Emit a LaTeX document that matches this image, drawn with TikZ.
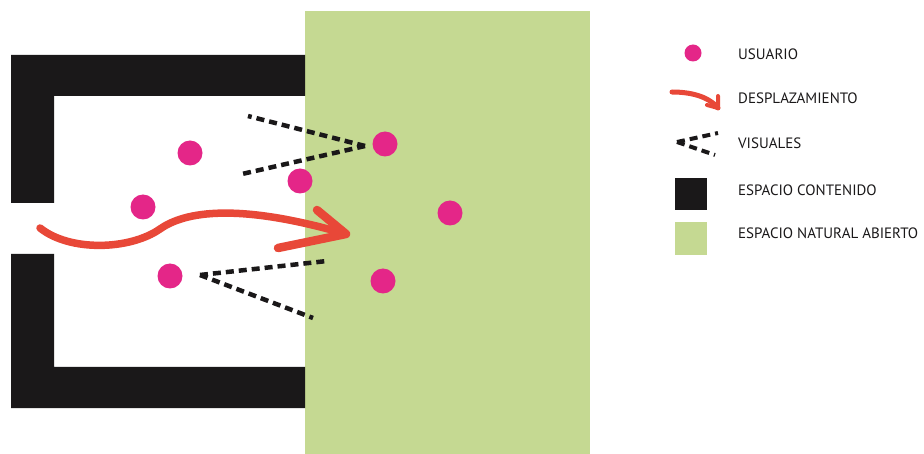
\documentclass[tikz,border=0pt]{standalone}
\usepackage{fontspec}
\setmainfont{PT Sans}
\definecolor{wallblack}{RGB}{26,24,25}
\definecolor{opengreen}{RGB}{197,217,146}
\definecolor{userpink}{RGB}{228,38,136}
\definecolor{moveRed}{RGB}{232,72,56}
\tikzset{
  userdot/.style={circle, fill=userpink, inner sep=0pt, minimum size=#1},
  userdot/.default=25pt,
  sightline/.style={draw=wallblack, line width=4.5pt, dash pattern=on 8pt off 5pt},
  movepath/.style={draw=moveRed, line width=7.5pt, line cap=round, line join=round},
  legendtext/.style={anchor=west, font=\fontsize{15}{17}\selectfont, text=wallblack, inner sep=0pt},
}
\begin{document}
\begin{tikzpicture}[x=1pt,y=-1pt]
\useasboundingbox (0,0) rectangle (924,454);
\fill[white] (0,0) rectangle (924,454);
% open natural space
\fill[opengreen] (305,11) rectangle (590,454);
% contained space (C shape)
\fill[wallblack] (305,55) -- (11,55) -- (11,203) -- (54,203) -- (54,96) -- (305,96) -- cycle;
\fill[wallblack] (305,408) -- (11,408) -- (11,254) -- (54,254) -- (54,367) -- (305,367) -- cycle;
% users
\node[userdot] (u1) at (190,153) {};
\node[userdot] (u2) at (300,181) {};
\node[userdot] (u3) at (143,207) {};
\node[userdot] (u4) at (170,276) {};
\node[userdot] (u5) at (385,144) {};
\node[userdot] (u6) at (383,281) {};
\node[userdot] (u7) at (450,213) {};
% sight lines
\coordinate (va) at (365,146);
\coordinate (va1) at (248,116);
\coordinate (va2) at (242,174);
\coordinate (vb) at (200,275);
\coordinate (vb1) at (327,261);
\coordinate (vb2) at (313,318);
\draw[sightline] (va) -- (va1);
\draw[sightline] (va) -- (va2);
\draw[sightline] (vb) -- (vb1);
\draw[sightline] (vb) -- (vb2);
% movement
\coordinate (ms) at (40,228);
\coordinate (mm) at (160,229);
\coordinate (mt) at (346,234);
\coordinate (mh1) at (317,210);
\coordinate (mh2) at (278,248);
\draw[movepath] (ms) .. controls (70,252) and (130,250) .. (mm) .. controls (190,208) and (250,206) .. (mt);
\draw[movepath, line width=8.5pt] (mh1) -- (mt) -- (mh2);
% legend
\node[userdot=17pt] (lu) at (693,53) {};
\node[legendtext] (tu) at (738,54) {USUARIO};
\coordinate (lm1) at (672,92);
\coordinate (lm2) at (718,108);
\draw[movepath, line width=5pt] (lm1) .. controls (690,92) and (708,96) .. (lm2);
\draw[movepath, line width=4pt] (718,96) -- (lm2) -- (707,105);
\node[legendtext] (tm) at (738,98) {DESPLAZAMIENTO};
\coordinate (lv) at (677,142);
\coordinate (lv1) at (718,133);
\coordinate (lv2) at (715,155);
\draw[sightline, line width=4pt, dash pattern=on 8pt off 5pt] (lv) -- (lv1);
\draw[sightline, line width=4pt, dash pattern=on 8pt off 5pt] (lv) -- (lv2);
\node[legendtext] (tv) at (738,143) {VISUALES};
\fill[wallblack] (675,178) rectangle (707,210);
\node[legendtext] (tc) at (738,190) {ESPACIO CONTENIDO};
\fill[opengreen] (675,222) rectangle (707,255);
\node[legendtext] (tn) at (738,233) {ESPACIO NATURAL ABIERTO};
\end{tikzpicture}
\end{document}
